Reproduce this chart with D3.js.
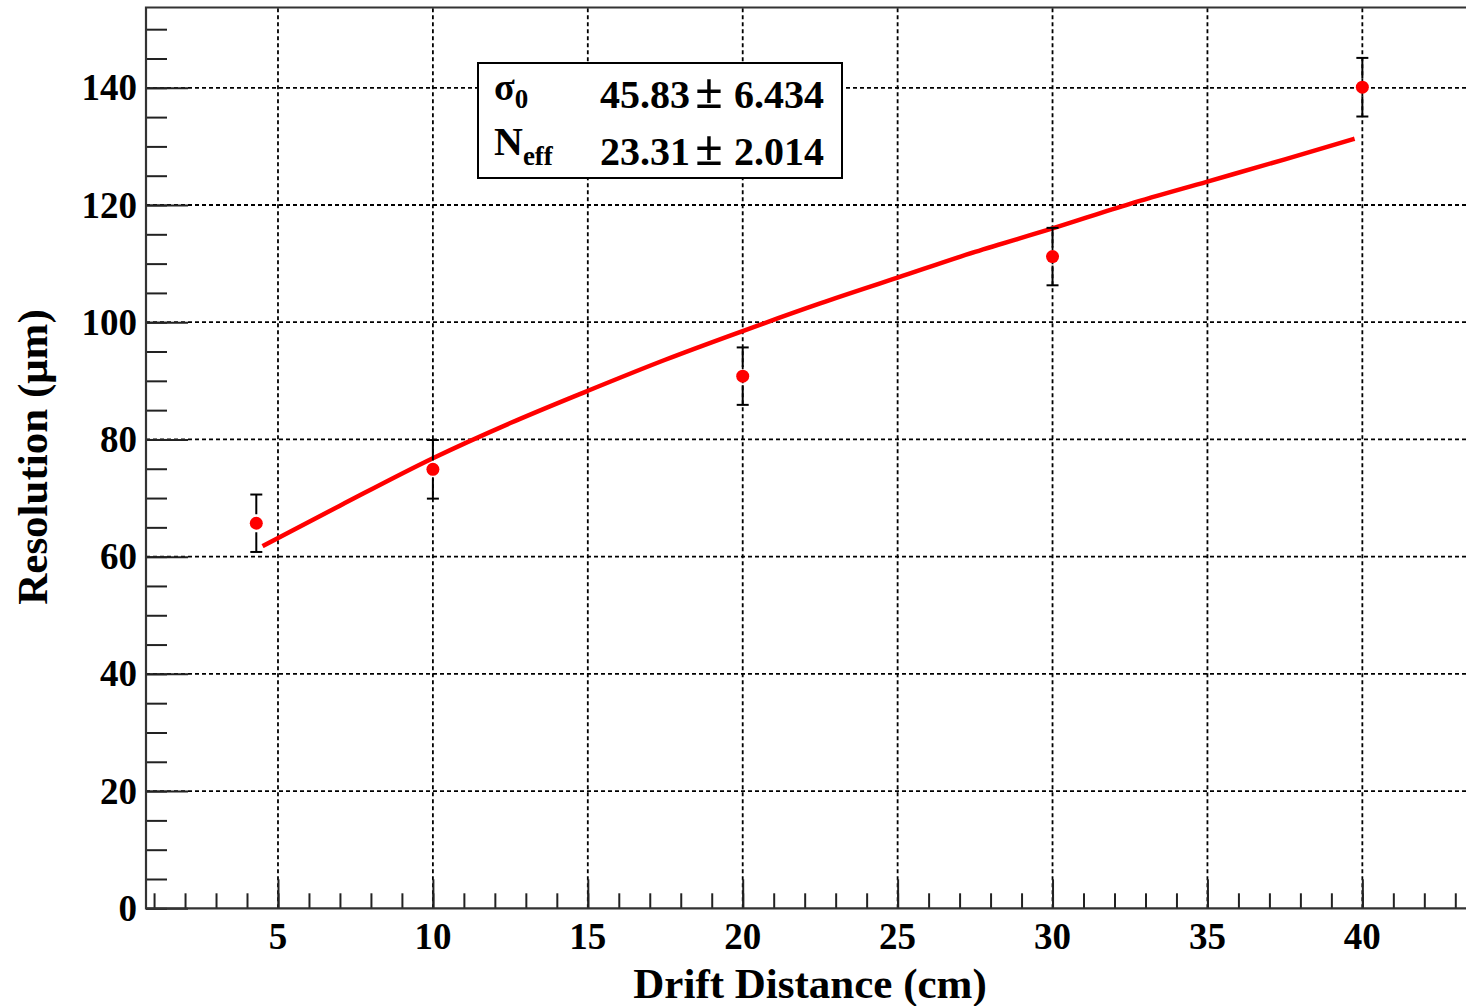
<!DOCTYPE html>
<html>
<head>
<meta charset="utf-8">
<script src="https://cdn.jsdelivr.net/npm/d3@7"></script>
<style>
  html, body { margin: 0; padding: 0; background: #fff; }
  svg { display: block; }
  text { font-family: "Liberation Serif", "Times New Roman", serif; font-weight: bold; fill: #000; }
</style>
</head>
<body>
<svg id="chart" width="1466" height="1006"></svg>
<script>
// Measured resolution vs drift distance
const distance      = [4.3, 10, 20, 30, 40];
const resolution    = [65.7, 74.9, 90.8, 111.2, 140.1];
const resolutionErr = [4.9, 5.0, 4.9, 4.9, 5.0];

// Fitted curve sampled along drift distance
const fitDistance   = [4.5, 7, 10, 12.5, 15, 17.5, 20, 22.5, 25, 27.5, 30, 32.5, 35, 37.5, 39.75];
const fitResolution = [61.8, 68.7, 76.8, 82.8, 88.3, 93.6, 98.5, 103.2, 107.6, 112.0, 116.0, 120.2, 124.0, 127.8, 131.3];

// Fit parameters shown in the stats box
const fitParams = [
  { name: "σ", sub: "0",   value: "45.83", error: "6.434" },
  { name: "N", sub: "eff", value: "23.31", error: "2.014" }
];

const xMajorTicks = [5, 10, 15, 20, 25, 30, 35, 40];
const yMajorTicks = [0, 20, 40, 60, 80, 100, 120, 140];

const svg = d3.select("#chart");
const frame = { left: 146, right: 1468, top: 7.5, bottom: 908.3 };

const x = d3.scaleLinear().domain([0.74, 43.41]).range([frame.left, frame.right]);
const y = d3.scaleLinear().domain([0, 153.7]).range([frame.bottom, frame.top]);

// grid
const grid = svg.append("g")
  .attr("stroke", "#000").attr("stroke-width", 1.8).attr("stroke-dasharray", "4,3");
grid.selectAll("line.v").data(xMajorTicks).join("line")
  .attr("x1", d => x(d)).attr("x2", d => x(d))
  .attr("y1", frame.bottom).attr("y2", frame.top);
grid.selectAll("line.h").data(yMajorTicks.filter(d => d > 0)).join("line")
  .attr("x1", frame.left).attr("x2", frame.right)
  .attr("y1", d => y(d)).attr("y2", d => y(d));

// x axis: major every 5, minor every 1
const xMinor = svg.append("g").attr("transform", `translate(0,${frame.bottom})`)
  .call(d3.axisTop(x).tickValues(d3.range(1, 44)).tickSize(15).tickFormat(""));
xMinor.select(".domain").remove();
xMinor.selectAll(".tick line").attr("stroke", "#222").attr("stroke-width", 2);
const xMajor = svg.append("g").attr("transform", `translate(0,${frame.bottom})`)
  .call(d3.axisTop(x).tickValues(xMajorTicks).tickSize(29).tickFormat(""));
xMajor.select(".domain").remove();
xMajor.selectAll(".tick line").attr("stroke", "#222").attr("stroke-width", 2);
svg.append("g").selectAll("text").data(xMajorTicks).join("text")
  .attr("x", d => x(d)).attr("y", 949)
  .attr("text-anchor", "middle").attr("font-size", 37)
  .text(d => d);

// y axis: major every 20, minor every 5
const yMinor = svg.append("g").attr("transform", `translate(${frame.left},0)`)
  .call(d3.axisRight(y).tickValues(d3.range(0, 155, 5)).tickSize(21).tickFormat(""));
yMinor.select(".domain").remove();
yMinor.selectAll(".tick line").attr("stroke", "#222").attr("stroke-width", 2);
const yMajor = svg.append("g").attr("transform", `translate(${frame.left},0)`)
  .call(d3.axisRight(y).tickValues(yMajorTicks).tickSize(42).tickFormat(""));
yMajor.select(".domain").remove();
yMajor.selectAll(".tick line").attr("stroke", "#222").attr("stroke-width", 2);
svg.append("g").selectAll("text").data(yMajorTicks).join("text")
  .attr("x", 137).attr("y", d => y(d) + 12.5)
  .attr("text-anchor", "end").attr("font-size", 37)
  .text(d => d);

// frame
svg.append("path")
  .attr("d", `M${frame.right},${frame.top}H${frame.left}V${frame.bottom}H${frame.right}`)
  .attr("fill", "none").attr("stroke", "#333").attr("stroke-width", 2.2);

// axis titles
svg.append("text")
  .attr("x", 810).attr("y", 998)
  .attr("text-anchor", "middle").attr("font-size", 43)
  .text("Drift Distance (cm)");
svg.append("text")
  .attr("transform", "translate(47,457) rotate(-90)")
  .attr("text-anchor", "middle").attr("font-size", 43)
  .text("Resolution (μm)");

// fit curve
const fit = fitDistance.map((d, i) => [d, fitResolution[i]]);
svg.append("path")
  .datum(fit)
  .attr("fill", "none").attr("stroke", "#ff0000").attr("stroke-width", 4.5)
  .attr("d", d3.line().x(d => x(d[0])).y(d => y(d[1])).curve(d3.curveMonotoneX));

// error bars and markers
const points = distance.map((d, i) => ({ x: d, y: resolution[i], e: resolutionErr[i] }));
const markerR = 6.5, gap = 9, cap = 6;
const err = svg.append("g").attr("stroke", "#000").attr("stroke-width", 2);
points.forEach(p => {
  const cx = x(p.x), cy = y(p.y), top = y(p.y + p.e), bot = y(p.y - p.e);
  err.append("line").attr("x1", cx).attr("x2", cx).attr("y1", top).attr("y2", cy - gap);
  err.append("line").attr("x1", cx).attr("x2", cx).attr("y1", cy + gap).attr("y2", bot);
  err.append("line").attr("x1", cx - cap).attr("x2", cx + cap).attr("y1", top).attr("y2", top);
  err.append("line").attr("x1", cx - cap).attr("x2", cx + cap).attr("y1", bot).attr("y2", bot);
});
svg.append("g").selectAll("circle").data(points).join("circle")
  .attr("cx", d => x(d.x)).attr("cy", d => y(d.y)).attr("r", markerR)
  .attr("fill", "#ff0000");

// stats box
const box = svg.append("g");
box.append("rect")
  .attr("x", 478).attr("y", 63).attr("width", 364).attr("height", 115)
  .attr("fill", "#fff").attr("stroke", "#000").attr("stroke-width", 2);
const rows = box.selectAll("g.row").data(fitParams).join("g")
  .attr("transform", (d, i) => `translate(0,${108 + i * 57})`);
const lab = rows.append("text").attr("x", 494);
lab.append("tspan").attr("dy", (d, i) => i === 0 ? -8 : -10)
  .attr("font-size", (d, i) => i === 0 ? 38 : 40).text(d => d.name);
lab.append("tspan").attr("dy", (d, i) => i === 0 ? 8 : 10).attr("font-size", 27).text(d => d.sub);
rows.append("text").attr("x", 690).attr("text-anchor", "end").attr("font-size", 40)
  .text(d => d.value);
rows.append("text").attr("x", 709).attr("text-anchor", "middle").attr("font-size", 50)
  .attr("font-weight", "normal").text("±");
rows.append("text").attr("x", 824).attr("text-anchor", "end").attr("font-size", 40)
  .text(d => d.error);
</script>
</body>
</html>
